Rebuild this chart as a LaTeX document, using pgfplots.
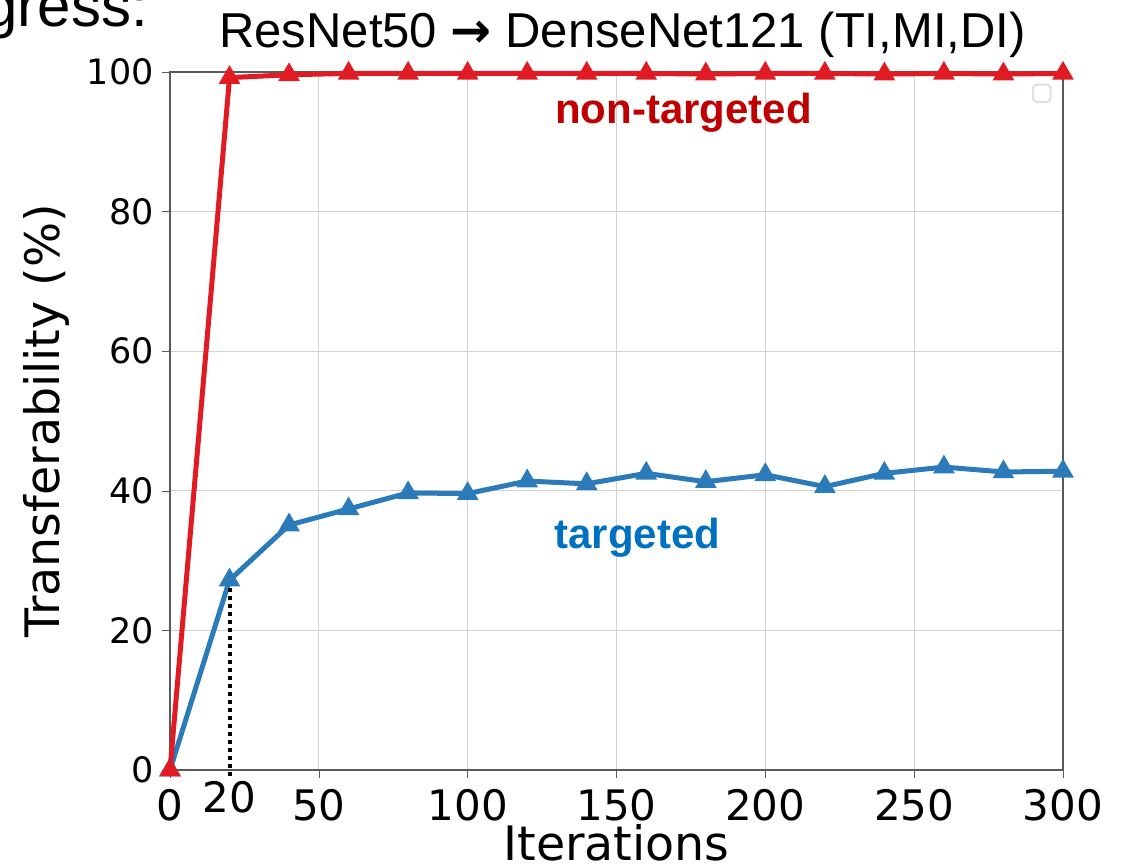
\documentclass[border=0pt]{standalone}
\usepackage{fontspec}
\setmainfont{DejaVu Sans}
\newfontfamily\arial{Liberation Sans}
\usepackage{pgfplots}
\pgfplotsset{compat=1.18}

\definecolor{lnred}{HTML}{E01B24}
\definecolor{lnblue}{HTML}{2B7BBA}
\definecolor{annred}{HTML}{C00000}
\definecolor{annblue}{HTML}{0070C0}

% 1 px of the reference = 0.4pt
\begin{document}
\begin{tikzpicture}
\begin{axis}[
    at={(68pt,-308pt)}, anchor=south west,
    scale only axis,
    width=357.2pt, height=279.2pt,
    xmin=0, xmax=300, ymin=0, ymax=100,
    xtick={0,50,100,150,200,250,300},
    ytick={0,20,40,60,80,100},
    xtick pos=left, ytick pos=left,
    extra x ticks={20},
    extra x tick style={grid=none, major tick length=0pt,
        tick label style={font=\fontsize{17}{17}\selectfont\arial}},
    grid=major,
    grid style={gray!35, line width=0.5pt},
    axis line style={black!65, line width=0.8pt},
    tick align=outside,
    major tick length=3pt,
    tick style={black!65},
    /pgf/number format/assume math mode=true,
    xticklabel style={font=\fontsize{16.8}{17}\selectfont, yshift=-1pt},
    yticklabel style={font=\fontsize{14}{14}\selectfont},
    xlabel={Iterations},
    xlabel style={at={(axis description cs:0.5,0)}, anchor=base, yshift=-36pt},
    ylabel={Transferability (\%)},
    label style={font=\fontsize{19}{19}\selectfont},
    clip=false,
]
\addplot[lnblue, line width=2pt, mark=triangle*, mark size=3pt] coordinates {
    (0,0) (20,27.2) (40,35.1) (60,37.4) (80,39.7) (100,39.6)
    (120,41.4) (140,41.0) (160,42.5) (180,41.3) (200,42.3)
    (220,40.6) (240,42.5) (260,43.4) (280,42.7) (300,42.8)
};
\addplot[lnred, line width=2pt, mark=triangle*, mark size=3pt] coordinates {
    (0,0) (20,99.2) (40,99.6) (60,99.8) (80,99.8) (100,99.8)
    (120,99.8) (140,99.8) (160,99.8) (180,99.7) (200,99.8)
    (220,99.8) (240,99.7) (260,99.8) (280,99.7) (300,99.8)
};
\addplot[black, line width=1.6pt, dash pattern=on 1.6pt off 1.6pt] coordinates {(20,-0.8) (20,27)};
\draw[gray!25, rounded corners=1.5pt, line width=0.8pt]
    ([xshift=-12pt,yshift=-5pt]rel axis cs:1,1) rectangle ([xshift=-5pt,yshift=-12pt]rel axis cs:1,1);
\end{axis}
\node[anchor=base, font=\fontsize{19.6}{20}\selectfont\arial] at (249pt,-18.8pt)
    {ResNet50 {\fontspec{DejaVu Sans Bold}→} DenseNet121 (TI,MI,DI)};
\node[anchor=base, font=\fontsize{16.8}{17}\selectfont\arial\bfseries, text=annred] at (273.4pt,-49.2pt) {non-targeted};
\node[anchor=base, font=\fontsize{16.8}{17}\selectfont\arial\bfseries, text=annblue] at (255pt,-219.2pt) {targeted};
\node[anchor=base east, inner xsep=0pt, font=\fontsize{24}{24}\selectfont\arial] at (59.4pt,-10.6pt) {Progress:};
\pgfresetboundingbox
\path[use as bounding box] (0,0) rectangle (450pt,-346pt);
\end{tikzpicture}
\end{document}
